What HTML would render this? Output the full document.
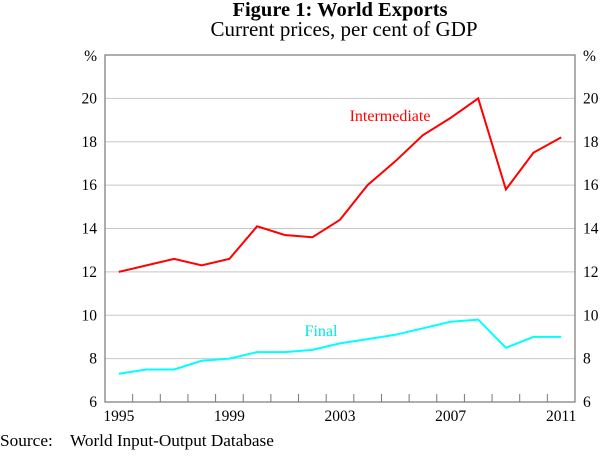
<!DOCTYPE html>
<html><head><meta charset="utf-8"><style>
body{margin:0;background:#fff;width:600px;height:452px;overflow:hidden}
svg text{font-family:"Liberation Serif",serif;}
</style></head><body>
<svg id="chart" width="600" height="452" xmlns="http://www.w3.org/2000/svg" font-family="Liberation Serif, serif">
<text x="340" y="16" text-anchor="middle" font-size="20.5" font-weight="bold">Figure 1: World Exports</text>
<text x="344" y="36" text-anchor="middle" font-size="21">Current prices, per cent of GDP</text>
<text x="0" y="446" font-size="17.3">Source:</text>
<text x="70" y="446" font-size="17.2">World Input-Output Database</text>
<g id="grid"></g><g id="series"></g><g id="axes"></g>
</svg>
<script>
const years=[1995,1996,1997,1998,1999,2000,2001,2002,2003,2004,2005,2006,2007,2008,2009,2010,2011];
const intermediate=[12.0,12.3,12.6,12.3,12.6,14.1,13.7,13.6,14.4,16.0,17.1,18.3,19.1,20.0,15.8,17.5,18.2];
const finalExports=[7.3,7.5,7.5,7.9,8.0,8.3,8.3,8.4,8.7,8.9,9.1,9.4,9.7,9.8,8.5,9.0,9.0];
const yTicks=[6,8,10,12,14,16,18,20];
const xLabels=[1995,1999,2003,2007,2011];
const L=105,R=575,T=55,B=402,yMin=6,yMax=22;
const bw=(R-L)/years.length;
const X=y=>L+(y-years[0]+0.5)*bw;
const Y=v=>B-(v-yMin)/(yMax-yMin)*(B-T);
const NS="http://www.w3.org/2000/svg";
const FF='"Liberation Serif", serif';
function mk(tag,attrs,parent,txt){const e=document.createElementNS(NS,tag);for(const k in attrs)e.setAttribute(k,attrs[k]);if(txt!=null){e.textContent=txt;e.style.fontFamily=FF;}document.getElementById(parent).appendChild(e);return e;}
yTicks.forEach(v=>{
 if(v>yMin){const g=mk('line',{x1:L,x2:R,y1:Y(v),y2:Y(v),stroke:'#c8c8c8','stroke-width':1},'grid');
 
 }
 const a=mk('text',{x:L-8,y:Y(v)+5,'text-anchor':'end','font-size':15.5},'axes',v);
 
 
 const b=mk('text',{x:R+8,y:Y(v)+5,'text-anchor':'start','font-size':15.5},'axes',v);
 
 
});
const p1=mk('text',{x:L-8,y:T+6,'text-anchor':'end','font-size':15.5},'axes','%');


const p2=mk('text',{x:R+8,y:T+6,'font-size':15.5},'axes','%');


const box=mk('rect',{x:L,y:T,width:R-L,height:B-T,fill:'none',stroke:'#777','stroke-width':1.2},'axes');


for(let i=1;i<years.length;i++){const t=mk('line',{x1:L+i*bw,x2:L+i*bw,y1:B,y2:B-8,stroke:'#777','stroke-width':1},'axes');
 
 }
xLabels.forEach(y=>{const t=mk('text',{x:X(y),y:B+19,'text-anchor':'middle','font-size':15.5},'axes',y);
 
 });
function line(data,color,name){const pts=data.map((v,i)=>X(years[i]).toFixed(1)+','+Y(v).toFixed(1)).join(' ');
 const l=mk('polyline',{points:pts,fill:'none',stroke:color,'stroke-width':2},'series');
 
 }
line(intermediate,'#ff0000','intermediate-line');
line(finalExports,'#00ffff','final-line');
const li=mk('text',{x:390,y:121,'text-anchor':'middle','font-size':16,fill:'#ff0000'},'series','Intermediate');


const lf=mk('text',{x:321,y:336,'text-anchor':'middle','font-size':16,fill:'#00e5e5'},'series','Final');


</script>
</body></html>
